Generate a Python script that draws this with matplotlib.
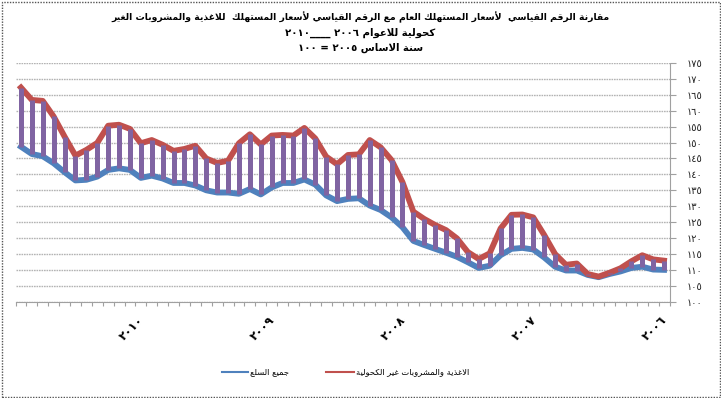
import matplotlib
matplotlib.use('Agg')
import matplotlib.pyplot as plt
from matplotlib.patches import Rectangle
from matplotlib.lines import Line2D

# ---------------- data (chronological: Jan 2006 ... Dec 2010) ----------------
food_bev = [112.9, 113.3, 114.6, 112.7, 110.5, 109.1, 107.9, 108.7, 112.0, 111.6,
            115.0, 121.0, 126.5, 127.4, 127.3, 123.0, 115.2, 113.4, 115.6, 119.9,
            122.5, 124.1, 126.0, 128.3, 137.6, 144.5, 148.5, 150.8, 146.3, 146.1,
            143.2, 145.6, 151.3, 154.6, 152.2, 152.4, 152.2, 149.4, 152.6, 149.8,
            144.3, 143.6, 145.0, 149.0, 148.0, 147.4, 149.3, 150.8, 149.8, 154.3,
            155.6, 155.3, 149.9, 147.7, 145.9, 151.9, 158.2, 163.1, 163.4, 167.3]
all_items = [110.0, 110.1, 111.0, 110.6, 109.5, 108.7, 107.7, 108.4, 109.8, 109.8,
             111.0, 113.9, 116.4, 116.9, 116.6, 114.6, 111.3, 110.6, 112.4, 114.1,
             115.4, 116.6, 117.8, 119.1, 123.4, 126.5, 128.8, 130.2, 132.5, 132.3,
             131.6, 133.4, 136.8, 138.4, 137.3, 137.3, 135.9, 133.7, 135.4, 133.9,
             134.3, 134.3, 135.0, 136.5, 137.3, 137.3, 138.7, 139.6, 138.9, 141.4,
             141.9, 141.4, 139.3, 138.3, 138.1, 140.7, 143.5, 145.7, 146.4, 148.7]
years = ['٢٠٠٦', '٢٠٠٧', '٢٠٠٨', '٢٠٠٩', '٢٠١٠']
y_ticks = [100, 105, 110, 115, 120, 125, 130, 135, 140, 145, 150, 155, 160, 165, 170, 175]

title_lines = ['مقارنة الرقم القياسي  لأسعار المستهلك العام مع الرقم القياسي لأسعار المستهلك  للاغذية والمشروبات الغير',
               'كحولية للاعوام ٢٠٠٦ ____٢٠١٠',
               'سنة الاساس ٢٠٠٥ = ١٠٠']
label_food = 'الاغذية والمشروبات غير الكحولية'
label_all = 'جميع السلع'

# ---------------- minimal Arabic shaping + RTL ordering ----------------
_FORMS = {
    0x621: (0xFE80, 1), 0x622: (0xFE81, 2), 0x623: (0xFE83, 2), 0x624: (0xFE85, 2),
    0x625: (0xFE87, 2), 0x626: (0xFE89, 4), 0x627: (0xFE8D, 2), 0x628: (0xFE8F, 4),
    0x629: (0xFE93, 2), 0x62A: (0xFE95, 4), 0x62B: (0xFE99, 4), 0x62C: (0xFE9D, 4),
    0x62D: (0xFEA1, 4), 0x62E: (0xFEA5, 4), 0x62F: (0xFEA9, 2), 0x630: (0xFEAB, 2),
    0x631: (0xFEAD, 2), 0x632: (0xFEAF, 2), 0x633: (0xFEB1, 4), 0x634: (0xFEB5, 4),
    0x635: (0xFEB9, 4), 0x636: (0xFEBD, 4), 0x637: (0xFEC1, 4), 0x638: (0xFEC5, 4),
    0x639: (0xFEC9, 4), 0x63A: (0xFECD, 4), 0x641: (0xFED1, 4), 0x642: (0xFED5, 4),
    0x643: (0xFED9, 4), 0x644: (0xFEDD, 4), 0x645: (0xFEE1, 4), 0x646: (0xFEE5, 4),
    0x647: (0xFEE9, 4), 0x648: (0xFEED, 2), 0x649: (0xFEEF, 2), 0x64A: (0xFEF1, 4),
}
_LAM_ALEF = {0x622: 0xFEF5, 0x623: 0xFEF7, 0x625: 0xFEF9, 0x627: 0xFEFB}


def shape(text):
    units = []
    i = 0
    while i < len(text):
        c = ord(text[i])
        if c == 0x644 and i + 1 < len(text) and ord(text[i + 1]) in _LAM_ALEF:
            units.append((_LAM_ALEF[ord(text[i + 1])], 'LA'))
            i += 2
            continue
        if c in _FORMS:
            n = _FORMS[c][1]
            units.append((c, {1: 'U', 2: 'R', 4: 'D'}[n]))
        elif c == 0x640:
            units.append((c, 'C'))
        else:
            units.append((c, 'N'))
        i += 1
    out = []
    for j, (c, k) in enumerate(units):
        prev_k = units[j - 1][1] if j > 0 else 'N'
        next_k = units[j + 1][1] if j + 1 < len(units) else 'N'
        jp = prev_k in ('D', 'C') and k in ('D', 'R', 'LA', 'C')
        jn = k in ('D', 'C') and next_k in ('D', 'R', 'LA', 'C')
        if k == 'D':
            base = _FORMS[c][0]
            off = 3 if (jp and jn) else 1 if jp else 2 if jn else 0
            out.append(chr(base + off))
        elif k == 'R':
            out.append(chr(_FORMS[c][0] + (1 if jp else 0)))
        elif k == 'LA':
            out.append(chr(c + (1 if jp else 0)))
        elif k == 'U':
            out.append(chr(_FORMS[c][0]))
        else:
            out.append(chr(c))
    s = ''.join(out)[::-1]
    # restore left-to-right order inside runs of digits
    res, run = [], []
    for ch in s:
        if ch.isdigit():
            run.append(ch)
        else:
            if run:
                res.extend(run[::-1]); run = []
            res.append(ch)
    if run:
        res.extend(run[::-1])
    return ''.join(res)


def ar_digits(n):
    return ''.join(chr(0x660 + int(d)) for d in str(n))


plt.rcParams['font.family'] = ['DejaVu Sans']

W, H = 721, 398
fig = plt.figure(figsize=(W / 100, H / 100), dpi=100)
fig.patch.set_facecolor('white')

left_px, right_px, top_px, bot_px = 15.5, 669.5, 63.0, 301.7
ax = fig.add_axes([left_px / W, 1 - bot_px / H, (right_px - left_px) / W, (bot_px - top_px) / H])

x = list(range(len(food_bev)))

# gridlines
for v in y_ticks:
    ax.axhline(v, color='#b4b4b4', lw=1.0, ls=(0, (1.2, 0.6)), zorder=0)

ax.plot(x, all_items, color='#4F81BD', lw=4.2, solid_joinstyle='round', zorder=2)
ax.plot(x, food_bev, color='#C0504D', lw=4.2, solid_joinstyle='round', zorder=3)
ax.vlines(x, all_items, food_bev, color='#8064A2', lw=3.6, zorder=4)

ax.set_xlim(len(x) - 0.5, -0.5)
ax.set_ylim(100, 175)

for s in ['top', 'left']:
    ax.spines[s].set_visible(False)
ax.spines['bottom'].set_color('#a0a0a0')
ax.spines['bottom'].set_linestyle((0, (1, 1)))
ax.spines['right'].set_color('#a0a0a0')
ax.spines['right'].set_linestyle((0, (1, 1)))

ax.yaxis.tick_right()
ax.set_yticks(y_ticks)
ax.set_yticklabels([ar_digits(v) for v in y_ticks], fontsize=7, color='#222222')
ax.tick_params(axis='y', which='major', length=4, color='#a0a0a0', pad=8)

ax.set_xticks([i - 0.5 for i in range(len(x) + 1)])
ax.set_xticklabels([])
ax.tick_params(axis='x', which='major', length=3, color='#a0a0a0', width=0.8)

for k, yr in enumerate(years):
    ax.annotate(yr, xy=(12 * k, 0), xycoords=('data', 'axes fraction'),
                xytext=(1, -16), textcoords='offset pixels',
                rotation=45, rotation_mode='anchor', ha='right', va='center',
                fontsize=8.5, fontweight='bold', color='black')

# title
for txt, ypx, fs in zip(title_lines, [17, 33, 48], [6.7, 7.3, 7.3]):
    fig.text(0.5, 1 - ypx / H, shape(txt), ha='center', va='center',
             fontsize=fs, fontweight='bold', color='black')

# legend
ly = 1 - 372 / H
fig.add_artist(Line2D([222 / W, 248 / W], [ly, ly], color='#4F81BD', lw=1.5))
fig.text(250 / W, ly, shape(label_all), ha='left', va='center', fontsize=6)
fig.add_artist(Line2D([326 / W, 354 / W], [ly, ly], color='#C0504D', lw=1.5))
fig.text(356 / W, ly, shape(label_food), ha='left', va='center', fontsize=6)

# chart border
fig.add_artist(Rectangle((1.5 / W, 1.5 / H), (W - 3) / W, (H - 3) / H, transform=fig.transFigure,
                         fill=False, ec='#555555', lw=1.0, ls=(0, (1, 1))))

fig.savefig('out.png', dpi=100, facecolor='white')
